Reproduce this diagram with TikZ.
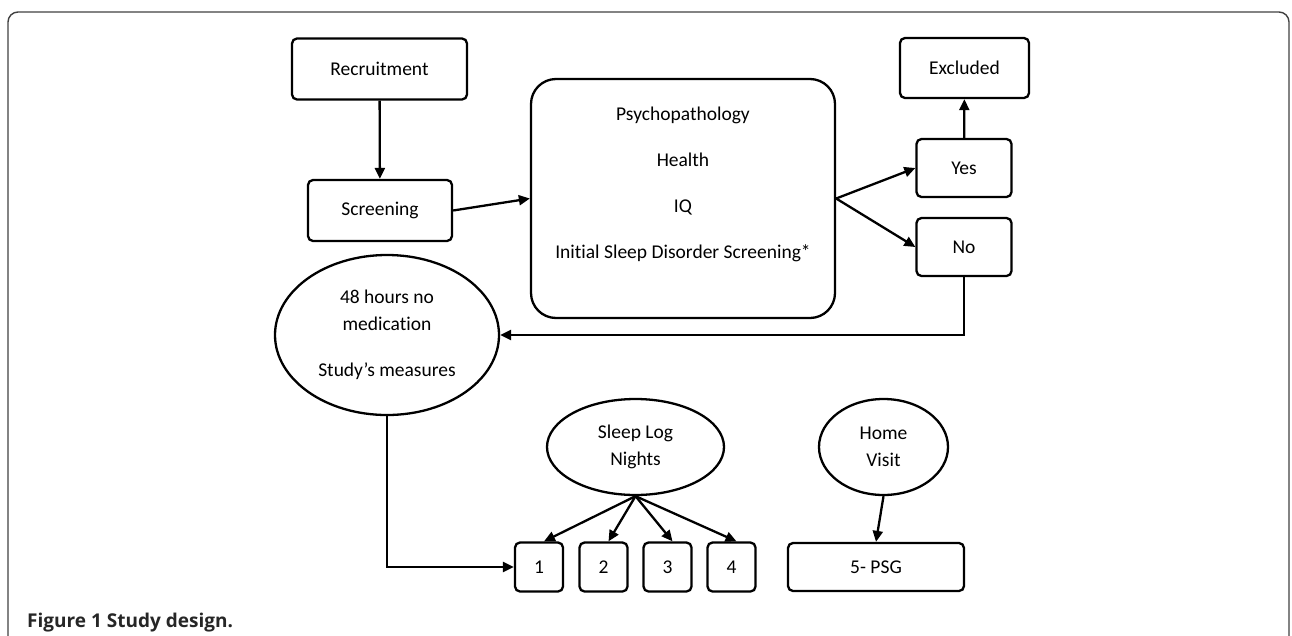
\documentclass[tikz,border=0pt]{standalone}
\usepackage{fontspec}
\setmainfont{Carlito}[Ligatures=NoCommon]
\newfontfamily\capfont{Open Sans}
\usetikzlibrary{shapes.geometric,arrows.meta,positioning}

\begin{document}
\begin{tikzpicture}[x=1pt,y=-1pt,
    font=\fontsize{19.5}{27}\selectfont,
    box/.style={draw, line width=2.3pt, rounded corners=5pt, inner sep=0pt, align=center},
    oval/.style={draw, ellipse, line width=2.3pt, inner sep=0pt, align=center},
    arr/.style={-{Triangle[length=11pt,width=10pt]}, line width=2.3pt}]
                    \useasboundingbox (0,0) rectangle (1292,635);
                    % outer frame, open at the bottom
                    \draw[black!75, line width=1.4pt, rounded corners=10pt] (8,640) -- (8,12) -- (1289,12) -- (1289,640);
                    % first row
                    \node[box, minimum width=175pt, minimum height=61pt] (rec) at (379.5,69) {Recruitment};
                    \node[box, minimum width=144pt, minimum height=61pt] (scr) at (380,210.5) {Screening};
                    \node[box, rounded corners=25pt, minimum width=304pt, minimum height=239pt] (tests) at (683,198.5) {};
                    \node[align=center] (testsTxt) at (683,184) {Psychopathology\\[19pt]Health\\[19pt]IQ\\[19pt]Initial Sleep Disorder Screening*};
                    \node[box, minimum width=129pt, minimum height=60pt] (exc) at (964.5,68) {Excluded};
                    \node[box, minimum width=95pt, minimum height=58pt] (yes) at (964,168) {Yes};
                    \node[box, minimum width=95pt, minimum height=58pt] (no) at (964,247) {No};
                    % ovals
                    \node[oval, minimum width=224pt, minimum height=160pt] (meas) at (387,335) {48 hours no\\medication\\[19pt]Study's measures};
                    \node[oval, minimum width=177pt, minimum height=96pt] (log) at (635.5,447) {Sleep Log\\Nights};
                    \node[oval, minimum width=129pt, minimum height=96pt] (home) at (883.5,447) {Home\\Visit};
                    % nights
                    \foreach \n/\x in {1/539,2/603.5,3/667.5,4/731.5} {
                        \node[box, minimum width=48pt, minimum height=49pt] (n\n) at (\x,567) {\n};
                    }
                    \node[box, minimum width=176pt, minimum height=48pt] (psg) at (876,567) {5- PSG};
                    % connectors
                    \draw[arr] (rec) -- (scr);
                    \draw[arr] (scr.east) -- (tests.west);
                    \draw[arr] (tests.east) -- (yes.west);
                    \draw[arr] (tests.east) -- (no.west);
                    \draw[arr] (yes) -- (exc);
                    \draw[arr] (no.south) |- (meas.east);
                    \draw[arr] (meas.south) |- (n1.west);
                    \foreach \n in {1,2,3,4} {
                        \draw[arr] (log.south) -- ([xshift=5pt]n\n.north);
                    }
                    \draw[arr] (home.south) -- (psg.north);
                    % caption
                    \node[anchor=base west, inner sep=0pt, text=black!85, font=\capfont\bfseries\fontsize{19}{22}\selectfont] (cap) at (27,627) {Figure 1 Study design.};
                \end{tikzpicture}
\end{document}
